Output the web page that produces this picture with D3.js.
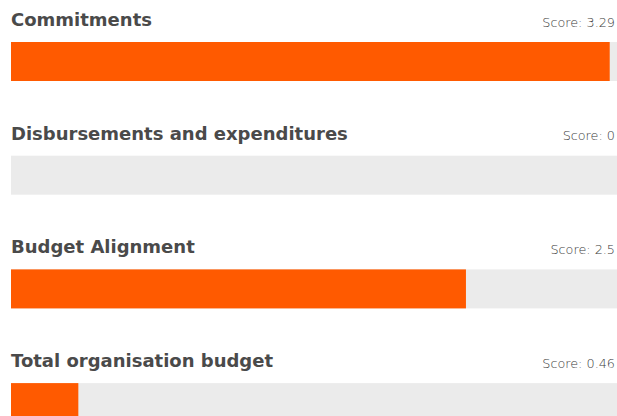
<!DOCTYPE html>
<html>
<head>
<meta charset="utf-8">
<script src="https://cdn.jsdelivr.net/npm/d3@7"></script>
<style>
  body { margin: 0; background: #fff; }
  .title { font-family: 'DejaVu Sans', sans-serif; font-weight: bold; font-size: 18px; fill: #4a4a4a; }
  .score { font-family: 'DejaVu Sans', sans-serif; font-weight: 300; font-size: 12.8px; fill: #3a3a3a; }
</style>
</head>
<body>
<script>
const categories = ['Commitments', 'Disbursements and expenditures', 'Budget Alignment', 'Total organisation budget'];
const scores = [3.29, 0, 2.5, 0.46];
// drawn bar lengths (the last one is shorter than its label suggests)
const fills = [3.29, 0, 2.5, 0.37];
const maxScore = 3.33;

const width = 617, height = 416;
const left = 11, right = 617;
const rowStep = 113.7, barTop = 42, barHeight = 39;

const svg = d3.select('body')
              .append('svg')
              .attr('width', width)
              .attr('height', height);

const xScale = d3.scaleLinear()
                 .domain([0, maxScore])
                 .range([left, right]);

const yScale = d3.scaleBand()
                 .domain(categories)
                 .range([0, rowStep * categories.length]);

const rows = svg.selectAll('g.row')
  .data(categories)
  .enter()
  .append('g')
  .attr('class', 'row')
  .attr('transform', (d) => 'translate(0,' + yScale(d) + ')');

rows.append('text')
  .attr('class', 'title')
  .attr('x', left)
  .attr('y', 26)
  .text((d) => d);

rows.append('text')
  .attr('class', 'score')
  .attr('x', 615)
  .attr('y', 26.5)
  .attr('text-anchor', 'end')
  .text((d, i) => 'Score: ' + scores[i]);

rows.append('rect')
  .attr('x', xScale(0))
  .attr('y', barTop)
  .attr('width', xScale(maxScore) - xScale(0))
  .attr('height', barHeight)
  .attr('fill', '#ebebeb');

rows.append('rect')
  .attr('x', xScale(0))
  .attr('y', barTop)
  .attr('width', (d, i) => xScale(fills[i]) - xScale(0))
  .attr('height', barHeight)
  .attr('fill', '#ff5a00');
</script>
</body>
</html>
